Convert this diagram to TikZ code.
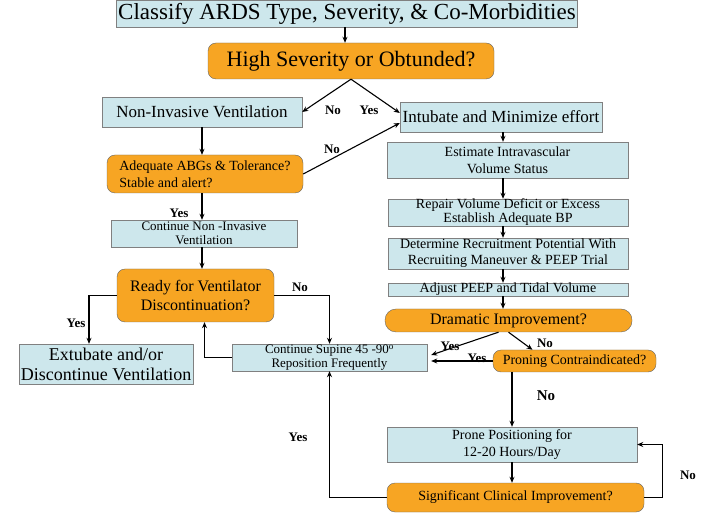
\documentclass[tikz,border=0pt]{standalone}
\usepackage{fontspec}
\setmainfont{Liberation Serif}
\usetikzlibrary{arrows.meta}
\definecolor{boxblue}{RGB}{205,231,236}
\definecolor{boxorange}{RGB}{247,165,35}
\tikzset{
  stepbox/.style={draw=gray, fill=boxblue, inner sep=0pt, align=center},
  askbox/.style={draw=black!60, fill=boxorange, rounded corners=8pt, inner sep=0pt, align=center},
  arr/.style={-{Stealth[length=6pt,width=5pt]}, line width=1.1pt},
  lbl/.style={font=\fontsize{13}{13}\selectfont\bfseries},
}
\begin{document}
\begin{tikzpicture}[x=1pt, y=-1pt]
    \useasboundingbox (0,0) rectangle (715,518);

    % boxes
    \node[stepbox, minimum width=461, minimum height=27, font=\fontsize{23}{25}\selectfont] (classify) at (347,13.5) {Classify ARDS Type, Severity, \& Co-Morbidities};
    \node[askbox, minimum width=286, minimum height=36, font=\fontsize{22}{24}\selectfont] (high) at (351,61) {High Severity or Obtunded?};
    \node[stepbox, minimum width=200, minimum height=30, font=\fontsize{17}{19}\selectfont] (niv) at (202,112) {Non-Invasive Ventilation};
    \node[stepbox, minimum width=202, minimum height=30, font=\fontsize{17}{19}\selectfont] (intub) at (501,117) {Intubate and Minimize effort};
    \node[askbox, minimum width=196, minimum height=38, align=left, font=\fontsize{14}{17}\selectfont] (adeq) at (205,174) {Adequate ABGs \& Tolerance?\\Stable and alert?};
    \node[stepbox, minimum width=241, minimum height=36, font=\fontsize{14}{17}\selectfont] (estim) at (507.5,160) {Estimate Intravascular\\Volume Status};
    \node[stepbox, minimum width=240, minimum height=27, font=\fontsize{14}{14}\selectfont] (repair) at (508,212.5) {Repair Volume Deficit or Excess\\Establish Adequate BP};
    \node[stepbox, minimum width=240, minimum height=31, font=\fontsize{14}{16}\selectfont] (determ) at (508,253.5) {Determine Recruitment Potential With\\Recruiting Maneuver \& PEEP Trial};
    \node[stepbox, minimum width=240, minimum height=13, font=\fontsize{14}{14}\selectfont] (adjust) at (508,289.5) {Adjust PEEP and Tidal Volume};
    \node[stepbox, minimum width=186, minimum height=27, font=\fontsize{13}{14}\selectfont] (cniv) at (204,233.5) {Continue Non -Invasive\\Ventilation};
    \node[askbox, minimum width=157, minimum height=53, font=\fontsize{16}{19}\selectfont] (ready) at (195.5,295.5) {Ready for Ventilator\\Discontinuation?};
    \node[stepbox, minimum width=174, minimum height=40, font=\fontsize{18}{20}\selectfont] (extub) at (106,364) {Extubate and/or\\Discontinue Ventilation};
    \node[stepbox, minimum width=195, minimum height=27, font=\fontsize{13}{14}\selectfont] (supine) at (329.5,357.5) {Continue Supine 45 -90\textsuperscript{o}\\Reposition Frequently};
    \node[askbox, rounded corners=11pt, minimum width=247, minimum height=23, font=\fontsize{16}{18}\selectfont] (dram) at (508.5,320.5) {Dramatic Improvement?};
    \node[askbox, minimum width=163, minimum height=22, font=\fontsize{14}{16}\selectfont] (pron) at (574.5,361) {Proning Contraindicated?};
    \node[stepbox, minimum width=250, minimum height=35, font=\fontsize{14}{17}\selectfont] (prone) at (512,444.5) {Prone Positioning for\\12-20 Hours/Day};
    \node[askbox, minimum width=257, minimum height=29, font=\fontsize{14}{16}\selectfont] (signif) at (515.5,497.5) {Significant Clinical Improvement?};

    % connectors
    \draw[arr] (classify.south -| 345,0) -- (345,0 |- high.north);
    \draw[arr] (high.south) -- (niv.east);
    \draw[arr] (high.south) -- ([yshift=4pt]intub.west);
    \draw[arr] (adeq.east) -- ([yshift=-6pt]intub.west);
    \draw[arr] (niv) -- (niv |- adeq.north);
    \draw[arr] (adeq.south -| niv) -- (niv |- cniv.north);
    \draw[arr] (cniv.south -| niv) -- (niv |- ready.north);
    \draw[arr] (ready.west) -| ([xshift=-17pt]extub.north);
    \draw[arr] (ready.east) -| (supine.north);
    \draw[arr] (supine.west) -| ([xshift=9pt]ready.south);
    \draw[arr] (intub.south -| 503,0) -- (503,0 |- estim.north);
    \draw[arr] (estim.south -| 503,0) -- (503,0 |- repair.north);
    \draw[arr] (repair.south -| 503,0) -- (503,0 |- determ.north);
    \draw[arr] (determ.south -| 503,0) -- (503,0 |- adjust.north);
    \draw[arr] (adjust.south -| 503,0) -- (503,0 |- dram.north);
    \draw[arr] ([xshift=-10pt]dram.south) -- ([xshift=4pt,yshift=2.5pt]supine.east);
    \draw[arr] ([xshift=0pt]dram.south) -- ([xshift=-42pt]pron.north);
    \draw[arr] (pron.west) -- ([xshift=4pt]pron.west -| supine.east);
    \draw[arr] (prone.north |- pron.south) -- (prone.north);
    \draw[arr] (prone.south) -- (prone.south |- signif.north);
    \draw[arr] (signif.east) -- ++(18,0) |- (prone.east);
    \draw[arr] (signif.west) -| (supine.south);

    % labels
    \node[lbl] (l1) at (333,110) {No};
    \node[lbl] (l2) at (369,110) {Yes};
    \node[lbl] (l3) at (332,149) {No};
    \node[lbl] (l4) at (179,213) {Yes};
    \node[lbl] (l5) at (76,323) {Yes};
    \node[lbl] (l6) at (300,287) {No};
    \node[lbl] (l7) at (450,346) {Yes};
    \node[lbl] (l8) at (545,343) {No};
    \node[lbl] (l9) at (477,358) {Yes};
    \node[lbl, font=\fontsize{15}{15}\selectfont\bfseries] (l10) at (546,396) {No};
    \node[lbl] (l11) at (298,437) {Yes};
    \node[lbl] (l12) at (688,475) {No};
\end{tikzpicture}
\end{document}
